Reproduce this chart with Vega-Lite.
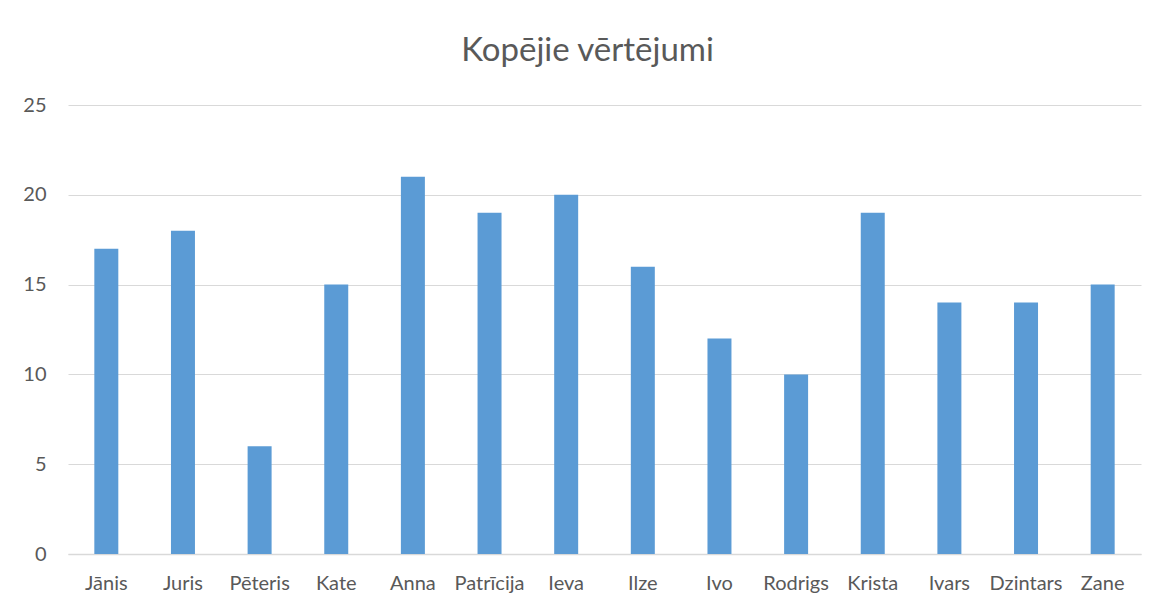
{
  "$schema": "https://vega.github.io/schema/vega-lite/v6.json",
  "autosize": "none",
  "width": 1073,
  "height": 449,
  "padding": {"left": 68, "top": 105, "right": 16, "bottom": 51},
  "background": "white",
  "title": {
    "text": "Kopējie vērtējumi",
    "font": "Lato",
    "fontSize": 33,
    "fontWeight": "normal",
    "color": "#595959",
    "anchor": "middle",
    "dx": -17,
    "offset": 27
  },
  "data": {
    "values": [
      {"name": "Jānis", "value": 17},
      {"name": "Juris", "value": 18},
      {"name": "Pēteris", "value": 6},
      {"name": "Kate", "value": 15},
      {"name": "Anna", "value": 21},
      {"name": "Patrīcija", "value": 19},
      {"name": "Ieva", "value": 20},
      {"name": "Ilze", "value": 16},
      {"name": "Ivo", "value": 12},
      {"name": "Rodrigs", "value": 10},
      {"name": "Krista", "value": 19},
      {"name": "Ivars", "value": 14},
      {"name": "Dzintars", "value": 14},
      {"name": "Zane", "value": 15}
    ]
  },
  "mark": {"type": "bar", "color": "#5b9bd5"},
  "encoding": {
    "x": {
      "field": "name",
      "type": "nominal",
      "sort": null,
      "scale": {"paddingInner": 0.687, "paddingOuter": 0.3435},
      "axis": {
        "title": null,
        "labelAngle": 0,
        "labelFont": "Lato",
        "labelFontSize": 20,
        "labelColor": "#595959",
        "labelPadding": 19,
        "ticks": false,
        "domainColor": "#d9d9d9",
        "domainWidth": 1.5,
        "grid": false
      }
    },
    "y": {
      "field": "value",
      "type": "quantitative",
      "scale": {"domain": [0, 25]},
      "axis": {
        "title": null,
        "values": [0, 5, 10, 15, 20, 25],
        "labelFont": "Lato",
        "labelFontSize": 20,
        "labelColor": "#595959",
        "labelPadding": 22,
        "ticks": false,
        "domain": false,
        "gridColor": "#d9d9d9",
        "gridWidth": 1.2
      }
    }
  },
  "config": {
    "view": {"stroke": null}
  }
}
